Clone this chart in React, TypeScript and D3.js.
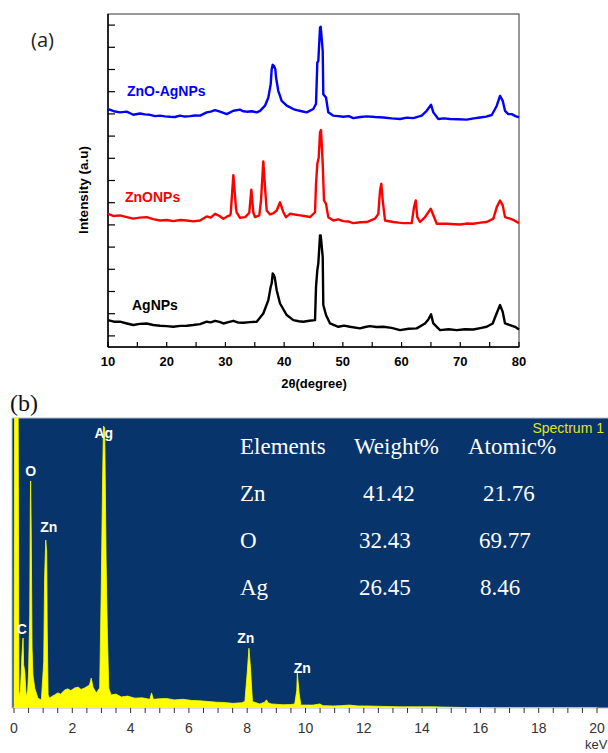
import React from 'react';
import * as d3 from 'd3';

// ---- (a) XRD patterns : [2theta (deg), intensity (a.u.)]
const znoAgNPs: [number, number][] = [
  [10.0, 1072], [11.0, 1062], [12.04, 1057], [13.18, 1060], [14.31, 1046], [15.45, 1052], [16.3, 1048],
  [17.15, 1046], [18.0, 1040], [18.86, 1042], [19.7, 1039], [20.56, 1037], [21.4, 1036], [22.26, 1042],
  [23.1, 1038], [23.97, 1040], [24.8, 1043], [25.67, 1042], [26.81, 1057], [27.5, 1060], [28.23, 1067],
  [29.08, 1060], [30.22, 1049], [31.35, 1064], [32.48, 1069], [33.0, 1062], [33.62, 1060], [34.5, 1062],
  [35.33, 1057], [35.89, 1064], [36.74, 1087], [37.31, 1124], [37.71, 1184], [37.88, 1251], [38.05, 1271],
  [38.27, 1266], [38.5, 1251], [38.62, 1214], [39.0, 1154], [39.58, 1109], [40.44, 1087], [41.56, 1072],
  [42.14, 1067], [43.0, 1062], [43.84, 1057], [44.97, 1072], [45.43, 1096], [45.65, 1281], [45.82, 1289],
  [46.11, 1438], [46.23, 1443], [46.57, 1334], [46.67, 1139], [47.13, 1124], [47.52, 1057], [48.38, 1042],
  [49.2, 1040], [50.08, 1037], [51.0, 1040], [51.78, 1031], [53.0, 1036], [54.06, 1039], [55.5, 1036],
  [56.89, 1034], [58.3, 1030], [59.74, 1027], [60.9, 1033], [62.0, 1031], [63.43, 1042], [64.28, 1064],
  [65.02, 1091], [65.41, 1057], [66.26, 1027], [67.2, 1030], [68.25, 1027], [69.7, 1026], [71.1, 1024],
  [72.3, 1030], [73.36, 1034], [74.4, 1038], [75.36, 1045], [75.92, 1072], [76.21, 1087], [76.77, 1131],
  [77.23, 1109], [77.62, 1064], [78.18, 1049], [78.76, 1049], [79.4, 1040], [80.0, 1034],
];

const znoNPs: [number, number][] = [
  [10.0, 600], [11.0, 590], [12.04, 593], [13.2, 585], [14.31, 578], [15.4, 583], [16.59, 585], [17.7, 576],
  [18.86, 570], [20.0, 572], [21.12, 567], [22.3, 572], [23.4, 570], [24.5, 566], [25.67, 570], [26.81, 588],
  [27.5, 583], [28.23, 600], [29.0, 590], [29.64, 578], [30.3, 588], [30.78, 593], [30.9, 602], [31.35, 774],
  [31.8, 624], [31.92, 606], [32.48, 582], [33.34, 585], [33.9, 600], [34.07, 606], [34.41, 709], [34.75, 606],
  [35.04, 585], [35.77, 593], [36.06, 660], [36.45, 836], [36.74, 720], [37.03, 615], [37.59, 597], [38.2, 603],
  [38.73, 615], [39.3, 652], [39.86, 607], [40.32, 585], [41.0, 600], [42.7, 593], [43.5, 590], [44.41, 585],
  [45.26, 607], [45.43, 735], [45.65, 825], [45.89, 854], [46.11, 967], [46.28, 977], [46.57, 825], [46.79, 660],
  [47.13, 645], [47.52, 585], [48.38, 570], [49.2, 575], [50.08, 567], [51.0, 565], [51.78, 558], [53.0, 562],
  [54.06, 563], [55.48, 578], [56.04, 600], [56.33, 705], [56.55, 735], [56.79, 660], [57.18, 570], [58.6, 563],
  [59.5, 560], [60.3, 558], [61.73, 558], [62.12, 630], [62.41, 660], [62.68, 585], [63.14, 563], [63.99, 585],
  [64.56, 607], [64.97, 623], [65.31, 600], [65.99, 555], [67.69, 555], [69.96, 552], [71.0, 556], [72.22, 555],
  [73.4, 560], [74.5, 563], [75.63, 578], [76.21, 630], [76.77, 660], [77.23, 638], [77.62, 585], [78.47, 578],
  [79.2, 570], [80.0, 558],
];

const agNPs: [number, number][] = [
  [10.0, 121], [11.0, 114], [12.04, 114], [13.2, 106], [14.31, 99], [15.4, 104], [16.59, 106], [17.7, 99],
  [18.86, 96], [20.0, 94], [21.12, 91], [22.3, 95], [23.4, 96], [24.5, 99], [25.67, 103], [26.81, 114],
  [27.5, 111], [28.23, 118], [29.0, 113], [29.64, 106], [30.5, 112], [31.35, 118], [32.2, 110], [33.05, 109],
  [34.2, 112], [35.33, 114], [36.45, 151], [37.31, 211], [37.71, 271], [37.88, 287], [38.05, 331], [38.27, 323],
  [38.39, 314], [38.73, 256], [39.3, 196], [40.44, 144], [41.56, 121], [42.5, 116], [43.26, 114], [44.3, 118],
  [45.26, 121], [45.43, 271], [45.65, 346], [45.82, 376], [46.11, 503], [46.23, 503], [46.57, 405], [46.67, 189],
  [47.13, 144], [47.82, 106], [49.24, 91], [50.2, 96], [51.21, 91], [52.91, 84], [53.8, 90], [54.61, 94],
  [55.7, 90], [56.89, 91], [58.3, 86], [59.74, 76], [61.2, 82], [62.58, 84], [63.99, 106], [64.56, 124],
  [65.02, 147], [65.41, 106], [66.55, 76], [68.0, 80], [69.39, 76], [70.8, 80], [72.22, 79], [73.4, 85],
  [74.5, 91], [75.52, 106], [76.08, 144], [76.77, 189], [77.23, 158], [77.62, 106], [78.47, 99], [79.32, 91],
  [80.0, 79],
];

const twoThetaTicks = [10, 20, 30, 40, 50, 60, 70, 80];
const twoThetaMinorTicks = [15, 25, 35, 45, 55, 65, 75];
const intensityTicks = [50, 150, 250, 350, 450, 550, 650, 750, 850, 950, 1050, 1150, 1250, 1350, 1450];

// ---- (b) EDS spectrum : [energy (keV), counts]
const edsSpectrum: [number, number][] = [
  [0.0, 0], [0.02, 1100], [0.14, 1100], [0.17, 38], [0.22, 60], [0.25, 124], [0.27, 180], [0.31, 241],
  [0.33, 150], [0.37, 124], [0.42, 38], [0.47, 60], [0.5, 124], [0.54, 321], [0.56, 700], [0.57, 783],
  [0.59, 621], [0.62, 207], [0.65, 114], [0.71, 69], [0.82, 34], [0.94, 28], [1.02, 159], [1.05, 448],
  [1.09, 579], [1.12, 538], [1.14, 276], [1.17, 45], [1.22, 34], [1.3, 40], [1.39, 45], [1.5, 52], [1.6, 48],
  [1.74, 62], [1.85, 66], [1.95, 60], [2.08, 69], [2.2, 72], [2.3, 64], [2.42, 69], [2.52, 75], [2.59, 79],
  [2.65, 103], [2.71, 72], [2.82, 52], [2.94, 69], [2.99, 390], [3.04, 793], [3.07, 972], [3.11, 966],
  [3.13, 793], [3.16, 503], [3.2, 276], [3.25, 69], [3.33, 45], [3.5, 48], [3.68, 38], [3.9, 41], [4.14, 34],
  [4.4, 35], [4.66, 30], [4.72, 52], [4.78, 30], [5.0, 32], [5.23, 33], [5.5, 28], [5.8, 30], [6.1, 26],
  [6.37, 25], [6.7, 22], [6.95, 20], [7.2, 19], [7.52, 16], [7.8, 18], [7.92, 22], [8.0, 120], [8.06, 206],
  [8.11, 142], [8.18, 22], [8.43, 14], [8.6, 20], [8.66, 28], [8.72, 18], [8.83, 14], [9.23, 11], [9.5, 12],
  [9.63, 14], [9.7, 60], [9.72, 120], [9.78, 52], [9.84, 10], [10.26, 10], [10.49, 14], [10.6, 8], [10.94, 7],
  [11.2, 8], [11.51, 10], [11.8, 7], [12.09, 7], [13.23, 4], [14.37, 4], [15.73, 1], [16.66, 0], [20, 0],
];

const keVTicks = [0, 2, 4, 6, 8, 10, 12, 14, 16, 18, 20];
// peak annotations: element, energy, count level of the label
const peakLabels: [string, number, number][] = [
  ['Ag', 3.08, 931], ['O', 0.57, 800], ['Zn', 1.19, 608], ['C', 0.27, 255], ['Zn', 7.95, 225], ['Zn', 9.89, 120],
];

const tableHeader = ['Elements', 'Weight%', 'Atomic%'];
const tableElements = ['Zn', 'O', 'Ag'];
const weightPct = ['41.42', '32.43', '26.45'];
const atomicPct = ['21.76', '69.77', '8.46'];

const sans = '"Liberation Sans", Arial, sans-serif';
const serif = '"Liberation Serif", "Times New Roman", serif';

const App = () => {
  // panel (a)
  const ax = d3.scaleLinear().domain([10, 80]).range([108, 519]);
  const ay = d3.scaleLinear().domain([0, 1500]).range([347, 14]);
  const line = d3.line<[number, number]>().x(d => ax(d[0])).y(d => ay(d[1]));
  const xrd = [
    { name: 'ZnO-AgNPs', data: znoAgNPs, color: '#0000ff', lx: 127, ly: 96 },
    { name: 'ZnONPs', data: znoNPs, color: '#ff0000', lx: 125, ly: 202 },
    { name: 'AgNPs', data: agNPs, color: '#000000', lx: 132, ly: 310 },
  ];

  // panel (b)
  const bx = d3.scaleLinear().domain([0, 20]).range([14, 597]);
  const by = d3.scaleLinear().domain([0, 1000]).range([708, 418]);
  const area = d3.area<[number, number]>().x(d => bx(d[0])).y0(by(0)).y1(d => by(d[1]));
  const minorKeV = d3.range(0, 20.01, 0.5);
  const rowY = [501, 548, 595];

  return (
    <svg width={608} height={753} style={{ position: 'absolute', left: 0, top: 0 }}>
      <rect width={608} height={753} fill="#fff" />

      {/* ---------- (a) ---------- */}
      <text x={31} y={47} fontFamily='"Open Sans", sans-serif' fontSize={20} fill="#222">(a)</text>
      <rect x={108} y={14} width={411} height={333} fill="none" stroke="#333" strokeWidth={1} />
      <line x1={108} x2={108} y1={14} y2={347} stroke="#000" strokeWidth={1.5} />
      <line x1={108} x2={519} y1={347} y2={347} stroke="#000" strokeWidth={1.5} />
      {intensityTicks.map(t => (
        <line key={t} x1={108} x2={115} y1={ay(t)} y2={ay(t)} stroke="#000" strokeWidth={1.2} />
      ))}
      {twoThetaTicks.concat(twoThetaMinorTicks).map(t => (
        <line key={t} x1={ax(t)} x2={ax(t)} y1={347} y2={342} stroke="#000" strokeWidth={1.2} />
      ))}
      {twoThetaTicks.map(t => (
        <text key={t} x={ax(t)} y={366} textAnchor="middle" fontFamily={sans} fontWeight="bold" fontSize={13}>{t}</text>
      ))}
      <text x={314} y={388} textAnchor="middle" fontFamily={sans} fontWeight="bold" fontSize={13}>2θ(degree)</text>
      <text transform="translate(88,190) rotate(-90)" textAnchor="middle" fontFamily={sans} fontWeight="bold" fontSize={13.5}>Intensity (a.u)</text>
      {xrd.map(s => (
        <g key={s.name}>
          <path d={line(s.data) || ''} fill="none" stroke={s.color} strokeWidth={2.4} strokeLinejoin="round" />
          <text x={s.lx} y={s.ly} fontFamily={sans} fontWeight="bold" fontSize={14} fill={s.color}>{s.name}</text>
        </g>
      ))}

      {/* ---------- (b) ---------- */}
      <text x={10} y={411} fontFamily={serif} fontSize={24} fill="#111">(b)</text>
      <defs>
        <clipPath id="edsClip">
          <rect x={12} y={418} width={596} height={290} />
        </clipPath>
      </defs>
      <rect x={12} y={418} width={597} height={290} fill="#07346a" stroke="#b8bcc4" strokeWidth={1} />
      <path d={area(edsSpectrum) || ''} fill="#ffff00" stroke="#ffff00" strokeWidth={0.8} clipPath="url(#edsClip)" />
      <text x={604} y={433} textAnchor="end" fontFamily={sans} fontSize={14} fill="#e4e41c">Spectrum 1</text>
      {peakLabels.map(([el, e, c], i) => (
        <text key={i} x={bx(e)} y={by(c)} textAnchor="middle" fontFamily={sans} fontWeight="bold" fontSize={14} fill="#fff">{el}</text>
      ))}
      {tableHeader.map((h, i) => (
        <text key={h} x={[240, 354, 468][i]} y={454} fontFamily={serif} fontSize={23} fill="#fff">{h}</text>
      ))}
      {tableElements.map((el, i) => (
        <g key={el}>
          <text x={240} y={rowY[i]} fontFamily={serif} fontSize={23} fill="#fff">{el}</text>
          <text x={[363, 359, 359][i]} y={rowY[i]} fontFamily={serif} fontSize={23} fill="#fff">{weightPct[i]}</text>
          <text x={[483, 479, 480][i]} y={rowY[i]} fontFamily={serif} fontSize={23} fill="#fff">{atomicPct[i]}</text>
        </g>
      ))}
      {minorKeV.map(t => (
        <line key={t} x1={bx(t)} x2={bx(t)} y1={708} y2={713} stroke="#333" strokeWidth={1} />
      ))}
      {keVTicks.map(t => (
        <text key={t} x={bx(t)} y={733} textAnchor="middle" fontFamily={sans} fontSize={14} fill="#333">{t}</text>
      ))}
      <text x={585} y={749} fontFamily={sans} fontSize={13} fill="#333">keV</text>
    </svg>
  );
};

export default App;
